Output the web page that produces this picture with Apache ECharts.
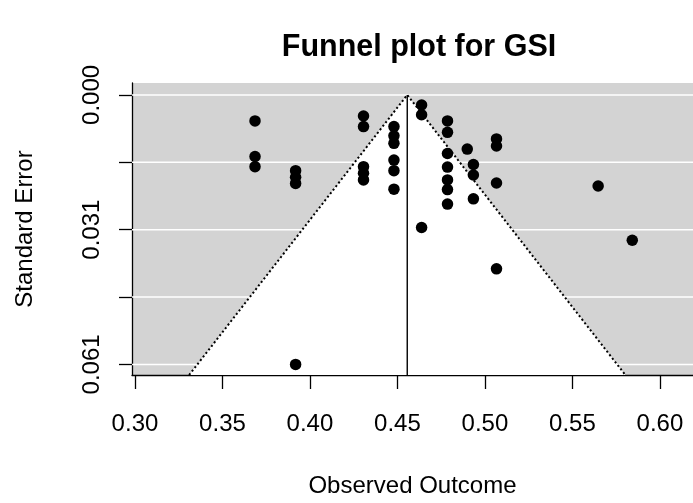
<!DOCTYPE html>
<html>
<head>
<meta charset="utf-8">
<script src="https://cdn.jsdelivr.net/npm/echarts@6/dist/echarts.min.js"></script>
<style>html,body{margin:0;padding:0;background:#fff;}#c{width:693px;height:503px;}</style>
</head>
<body>
<div id="c"></div>
<script>
// ---- data ----
const observedOutcome = [
  0.3686, 0.3686, 0.3686,
  0.3918, 0.3918, 0.3918, 0.3918,
  0.4306, 0.4306, 0.4306, 0.4306, 0.4306,
  0.4480, 0.4480, 0.4480, 0.4480, 0.4480, 0.4480,
  0.4638, 0.4638, 0.4638,
  0.4786, 0.4786, 0.4786, 0.4786, 0.4786, 0.4786, 0.4786,
  0.4899,
  0.4934, 0.4934, 0.4934,
  0.5066, 0.5066, 0.5066, 0.5066,
  0.5647,
  0.5842
];
const standardError = [
  0.0059, 0.0140, 0.0163,
  0.0172, 0.0187, 0.0201, 0.0612,
  0.0048, 0.0072, 0.0163, 0.0178, 0.0193,
  0.0072, 0.0093, 0.0110, 0.0148, 0.0172, 0.0214,
  0.0023, 0.0045, 0.0301,
  0.0059, 0.0085, 0.0133, 0.0164, 0.0193, 0.0215, 0.0248,
  0.0123,
  0.0158, 0.0182, 0.0236,
  0.0100, 0.0116, 0.0200, 0.0395,
  0.0207,
  0.0330
];
const pooledEstimate = 0.4556;
const zCrit = 1.96;
const xTicks = [0.30, 0.35, 0.40, 0.45, 0.50, 0.55, 0.60];
const yTicks = [0, 0.0153, 0.0306, 0.0459, 0.0612];
const yLabelTicks = [0, 0.0306, 0.0612];
const xRange = [0.2983, 0.6189];
const yRange = [-0.0027, 0.0636];
const titleText = 'Funnel plot for GSI';
const xName = 'Observed Outcome';
const yName = 'Standard Error';

// ---- build ----
const FONT = "'Liberation Sans', Arial, sans-serif";
const yMax = yRange[1];
const funnelPts = [
  [pooledEstimate - zCrit * yMax, yMax],
  [pooledEstimate, 0],
  [pooledEstimate + zCrit * yMax, yMax]
];
const points = observedOutcome.map((x, i) => [x, standardError[i]]);

const chart = echarts.init(document.getElementById('c'), null, {renderer: 'canvas'});
chart.setOption({
  animation: false,
  backgroundColor: '#ffffff',
  title: {
    text: titleText,
    left: 414,
    textAlign: 'center',
    top: 27,
    textStyle: {fontFamily: FONT, fontSize: 30.5, fontWeight: 'bold', color: '#000'}
  },
  grid: {
    left: 132, right: 0, top: 83, bottom: 128,
    show: true, backgroundColor: '#d3d3d3', borderWidth: 0
  },
  xAxis: {
    type: 'value', min: xRange[0], max: xRange[1],
    name: xName, nameLocation: 'middle', nameGap: 99,
    nameTextStyle: {fontFamily: FONT, fontSize: 24, color: '#000'},
    axisLine: {show: true, onZero: false, lineStyle: {color: '#000', width: 1.3}},
    axisTick: {show: true, customValues: xTicks, length: 14, lineStyle: {color: '#000', width: 1.3}},
    axisLabel: {customValues: xTicks, margin: 37, fontFamily: FONT, fontSize: 24, color: '#000',
      formatter: v => v.toFixed(2)},
    splitLine: {show: false}
  },
  yAxis: {
    type: 'value', inverse: true, min: yRange[0], max: yRange[1],
    name: yName, nameLocation: 'middle', nameGap: 95, nameRotate: 90,
    nameTextStyle: {fontFamily: FONT, fontSize: 24, color: '#000'},
    axisLine: {show: true, onZero: false, lineStyle: {color: '#000', width: 1.3}},
    axisTick: {show: true, customValues: yTicks, length: 13, lineStyle: {color: '#000', width: 1.3}},
    axisLabel: {customValues: yLabelTicks, rotate: 90, margin: 28, fontFamily: FONT, fontSize: 24, color: '#000',
      formatter: v => v.toFixed(3)},
    splitLine: {show: false}
  },
  series: [
    {
      type: 'custom', z: 1, silent: true,
      data: yTicks.map(v => [v]),
      renderItem: (params, api) => {
        const y = api.coord([xRange[0], api.value(0)])[1];
        const cs = params.coordSys;
        return {type: 'line', shape: {x1: cs.x, y1: y, x2: cs.x + cs.width, y2: y},
          style: {stroke: '#ffffff', lineWidth: 1.5}};
      }
    },
    {
      type: 'custom', z: 2, silent: true,
      data: [0],
      renderItem: (params, api) => ({
        type: 'polygon',
        shape: {points: funnelPts.map(p => api.coord(p))},
        style: {fill: '#ffffff'}
      })
    },
    {
      type: 'line', z: 3, silent: true, symbol: 'none',
      data: funnelPts,
      lineStyle: {color: '#000', width: 2, type: [2, 2.5]}
    },
    {
      type: 'line', z: 3, silent: true, symbol: 'none',
      data: [[pooledEstimate, 0], [pooledEstimate, yMax]],
      lineStyle: {color: '#000', width: 1.4}
    },
    {
      type: 'scatter', z: 5, symbol: 'circle', symbolSize: 11.5,
      data: points,
      itemStyle: {color: '#000', opacity: 1}
    }
  ]
});
</script>
</body>
</html>
